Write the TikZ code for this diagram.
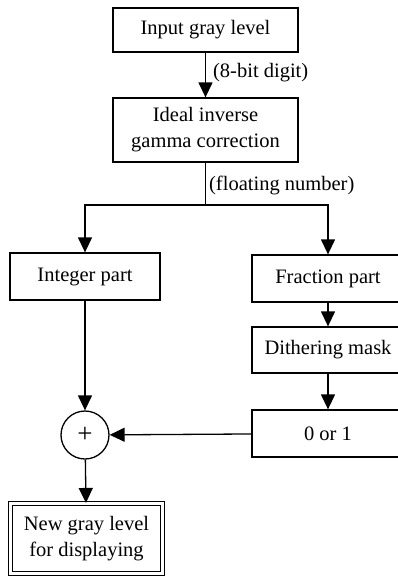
\documentclass[tikz,border=0pt]{standalone}
\usepackage{fontspec}
\setmainfont{Liberation Serif}
\usepackage{tikz}
\usetikzlibrary{arrows.meta, positioning, calc}

\tikzset{
  block/.style={draw, line width=1.3pt, minimum height=46pt, inner sep=2pt, align=center},
  flow/.style={-{Triangle[length=15pt, width=14pt]}, line width=1.3pt},
  lbl/.style={anchor=west, inner sep=0pt}
}

\begin{document}
\begin{tikzpicture}[x=1pt, y=-1pt, font=\fontsize{20.5}{26}\selectfont]
\useasboundingbox (0,0) rectangle (398,579);

% Main chain
\node[block, minimum width=185pt, minimum height=44pt] (input) at (205.5,30) {Input gray level};
\node[block, minimum width=185pt, minimum height=64pt] (ideal) at (205.5,130) {Ideal inverse\\gamma correction};
\coordinate (split) at (205.5,205);

% Two branches
\node[block, minimum width=150pt, minimum height=47pt] (integer) at (85,276.5) {Integer part};
\node[block, minimum width=152pt, minimum height=47pt] (fraction) at (328,278.5) {Fraction part};
\node[block, minimum width=152pt] (dither) at (328,350) {Dithering mask};
\node[block, minimum width=152pt, minimum height=47pt] (zeroone) at (328,433.5) {0 or 1};

% Sum and output
\node[draw, circle, line width=1.3pt, minimum size=48pt, inner sep=0pt, font=\fontsize{27}{30}\selectfont] (sum) at (85,435) {+};
\node[draw, double, double distance=2.2pt, line width=1.1pt, minimum width=152pt, minimum height=70pt, align=center] (newgray) at (86.5,538.5) {New gray level\\for displaying};

% Connectors
\draw[flow] (input) -- (ideal) node[lbl, pos=0.45, xshift=7pt] {(8-bit digit)};
\draw[line width=1.3pt] (ideal) -- (split) node[lbl, pos=0.55, xshift=3pt] {(floating number)};
\draw[flow] (split) -| (integer);
\draw[flow] (split) -| (fraction);
\draw[flow] (fraction) -- (dither);
\draw[flow] (dither) -- (zeroone);
\draw[flow] (integer) -- (sum);
\draw[flow] (zeroone) -- (sum);
\draw[flow] (sum) -- (newgray);
\end{tikzpicture}
\end{document}
